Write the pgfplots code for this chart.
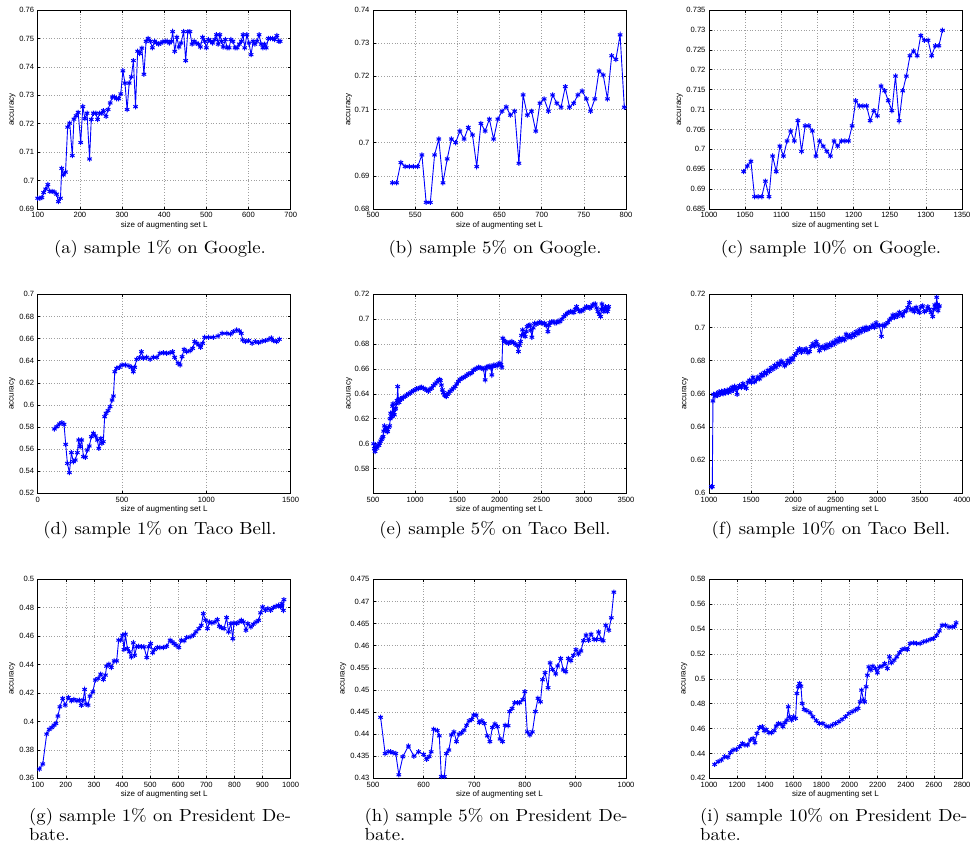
\documentclass[border=0pt]{standalone}
\usepackage{fontspec}
\usepackage{pgfplots}
\pgfplotsset{compat=1.18}
\newfontfamily\tickfont{Liberation Sans}
\newfontfamily\capfont{lmroman10-regular.otf}[FakeStretch=1.07]
\pgfplotsset{
  mystyle/.style={
    scale only axis, width=253pt, height=199pt,
    axis line style={line width=0.6pt, black},
    tick align=inside, major tick length=2.5pt,
    every tick/.style={black, line width=0.5pt},
    grid=major,
    major grid style={gray!75, line width=0.5pt, dash pattern=on 0.7pt off 2pt},
    tick label style={font=\tickfont\fontsize{7.6}{8}\selectfont},
    label style={font=\tickfont\fontsize{8}{9}\selectfont},
    /pgf/number format/assume math mode=true,
    /pgf/number format/1000 sep={},
    yticklabel style={/pgf/number format/fixed, /pgf/number format/precision=3},
    xlabel={size of augmenting set L}, ylabel={accuracy},
    xlabel style={at={(axis description cs:0.5,-0.082)}, anchor=center},
  },
  ylab/.style={ylabel style={at={(axis description cs:#1,0.5)}, anchor=center}},
  myline/.style={blue, line width=0.9pt, mark=asterisk, mark size=2.6pt, mark options={line width=1pt}},
}
\begin{document}
\begin{tikzpicture}
\useasboundingbox (0pt,0pt) rectangle (970pt,-847pt);
% (a)
\begin{axis}[mystyle, ylab=-0.099, at={(37.7pt,-209pt)}, xmin=100, xmax=700, ymin=0.69, ymax=0.76,
  xtick={100,200,...,700}, ytick={0.69,0.70,0.71,0.72,0.73,0.74,0.75,0.76}]
\addplot[myline] table {
100 0.6938
105 0.6938
110 0.6940
114 0.6958
119 0.6970
124 0.6986
129 0.6962
134 0.6962
139 0.6960
145 0.6952
149 0.6926
154 0.6938
157 0.7043
161 0.7020
166 0.7030
171 0.7188
176 0.7202
182 0.7088
186 0.7216
191 0.7228
196 0.7240
202 0.7134
207 0.7260
212 0.7218
217 0.7237
223 0.7076
227 0.7215
232 0.7237
238 0.7237
242 0.7215
247 0.7237
252 0.7237
256 0.7246
262 0.7226
267 0.7250
272 0.7273
277 0.7294
282 0.7294
287 0.7288
292 0.7288
297 0.7305
302 0.7386
307 0.7343
312 0.7250
317 0.7343
322 0.7365
327 0.7422
332 0.7260
337 0.7455
342 0.7447
347 0.7466
352 0.7374
357 0.7490
362 0.7500
367 0.7490
372 0.7467
377 0.7490
382 0.7484
387 0.7480
392 0.7484
397 0.7488
402 0.7490
407 0.7490
412 0.7484
417 0.7490
420 0.7524
425 0.7455
430 0.7504
435 0.7470
440 0.7484
446 0.7524
451 0.7422
456 0.7524
461 0.7524
466 0.7480
471 0.7490
476 0.7484
481 0.7480
486 0.7470
491 0.7504
496 0.7490
500 0.7467
505 0.7496
510 0.7490
515 0.7484
520 0.7496
524 0.7513
528 0.7480
532 0.7513
536 0.7490
540 0.7470
545 0.7496
549 0.7467
554 0.7467
558 0.7496
563 0.7490
568 0.7467
573 0.7467
578 0.7480
583 0.7490
587 0.7513
591 0.7467
596 0.7513
601 0.7484
606 0.7443
611 0.7490
615 0.7480
620 0.7490
625 0.7513
630 0.7480
634 0.7467
638 0.7480
642 0.7467
647 0.7500
652 0.7500
657 0.7500
662 0.7496
667 0.7510
672 0.7490
675 0.7490
};
\end{axis}
% (b)
\begin{axis}[mystyle, ylab=-0.095, at={(373pt,-209pt)}, xmin=500, xmax=800, ymin=0.68, ymax=0.74,
  xtick={500,550,...,800}, ytick={0.68,0.69,0.70,0.71,0.72,0.73,0.74}]
\addplot[myline] table {
523 0.6879
528 0.6879
533 0.6940
538 0.6928
543 0.6928
548 0.6928
553 0.6928
558 0.6963
563 0.6820
568 0.6820
573 0.6963
578 0.7011
583 0.6879
588 0.6951
593 0.7011
598 0.7000
603 0.7035
608 0.7011
613 0.7046
618 0.7023
623 0.6928
628 0.7058
633 0.7035
638 0.7071
643 0.7011
648 0.7071
653 0.7095
658 0.7108
663 0.7083
668 0.7095
673 0.6938
678 0.7144
683 0.7083
688 0.7095
693 0.7035
698 0.7119
703 0.7132
708 0.7095
713 0.7144
718 0.7119
723 0.7107
728 0.7169
733 0.7107
738 0.7119
743 0.7144
748 0.7156
753 0.7132
758 0.7095
763 0.7132
768 0.7216
773 0.7204
778 0.7132
783 0.7262
788 0.7251
793 0.7325
798 0.7107
};
\end{axis}
% (c)
\begin{axis}[mystyle, ylab=-0.115, at={(709pt,-209pt)}, xmin=1000, xmax=1350, ymin=0.685, ymax=0.735,
  xtick={1000,1050,...,1350}, ytick={0.685,0.69,0.695,0.7,0.705,0.71,0.715,0.72,0.725,0.73,0.735}]
\addplot[myline] table {
1048 0.6944
1053 0.6958
1058 0.6970
1063 0.6881
1068 0.6881
1073 0.6881
1078 0.6920
1083 0.6881
1088 0.6983
1093 0.6944
1098 0.7008
1103 0.6983
1108 0.7021
1113 0.7046
1118 0.7021
1123 0.7072
1128 0.6995
1133 0.7059
1138 0.7059
1143 0.7046
1148 0.6983
1153 0.7021
1158 0.7008
1163 0.6995
1168 0.6983
1173 0.7021
1178 0.7008
1183 0.7021
1188 0.7021
1193 0.7021
1198 0.7059
1203 0.7122
1208 0.7109
1213 0.7109
1218 0.7109
1223 0.7072
1228 0.7097
1233 0.7084
1238 0.7159
1243 0.7147
1248 0.7122
1253 0.7097
1258 0.7184
1263 0.7072
1268 0.7147
1273 0.7184
1278 0.7235
1283 0.7247
1288 0.7235
1293 0.7286
1298 0.7274
1303 0.7274
1308 0.7235
1313 0.7260
1318 0.7260
1323 0.7299
};
\end{axis}
% (d)
\begin{axis}[mystyle, ylab=-0.1, at={(37.7pt,-493.3pt)}, xmin=0, xmax=1500, ymin=0.52, ymax=0.70,
  xtick={0,500,1000,1500}, ytick={0.52,0.54,0.56,0.58,0.6,0.62,0.64,0.66,0.68,0.7}]
\addplot[myline] table {
99 0.5782
113 0.5803
128 0.5827
144 0.5839
156 0.5824
166 0.5643
176 0.5471
188 0.5387
200 0.5568
211 0.5486
223 0.5501
235 0.5568
243 0.5682
251 0.5622
261 0.5682
271 0.5532
283 0.5526
294 0.5592
306 0.5628
318 0.5712
330 0.5743
342 0.5719
354 0.5682
362 0.5607
374 0.5697
381 0.5652
389 0.5667
397 0.5893
405 0.5924
417 0.5948
429 0.5984
441 0.6044
449 0.6080
457 0.6300
468 0.6331
484 0.6340
500 0.6361
520 0.6361
540 0.6352
555 0.6340
567 0.6300
575 0.6340
587 0.6412
603 0.6427
615 0.6481
626 0.6421
646 0.6430
666 0.6412
686 0.6430
706 0.6430
725 0.6466
745 0.6472
765 0.6466
785 0.6472
800 0.6481
812 0.6430
832 0.6376
844 0.6361
856 0.6436
868 0.6502
883 0.6481
903 0.6490
919 0.6511
931 0.6572
943 0.6557
955 0.6542
966 0.6520
978 0.6557
990 0.6611
1014 0.6611
1042 0.6611
1069 0.6623
1093 0.6647
1121 0.6647
1144 0.6641
1160 0.6662
1180 0.6677
1196 0.6668
1207 0.6647
1215 0.6587
1231 0.6572
1251 0.6581
1271 0.6557
1291 0.6572
1310 0.6563
1330 0.6575
1350 0.6581
1370 0.6593
1385 0.6605
1397 0.6581
1417 0.6572
1433 0.6593
};
\end{axis}
% (e)
\begin{axis}[mystyle, ylab=-0.094, at={(373pt,-493.3pt)}, xmin=500, xmax=3500, ymin=0.56, ymax=0.72,
  xtick={500,1000,...,3500}, ytick={0.58,0.6,0.62,0.64,0.66,0.68,0.7,0.72}]
\addplot[myline] table {
508 0.5998
516 0.5960
524 0.5936
535 0.5975
547 0.5963
560 0.5990
570 0.5985
579 0.6003
591 0.6020
603 0.6035
611 0.6045
619 0.6057
627 0.6100
635 0.6142
645 0.6110
658 0.6124
666 0.6095
674 0.6097
686 0.6130
698 0.6142
704 0.6200
710 0.6244
718 0.6215
726 0.6217
732 0.6300
737 0.6319
745 0.6250
753 0.6231
761 0.6275
769 0.6284
777 0.6320
785 0.6346
793 0.6458
801 0.6350
809 0.6330
825 0.6360
840 0.6357
860 0.6372
880 0.6378
900 0.6390
920 0.6399
940 0.6405
959 0.6416
979 0.6425
999 0.6432
1018 0.6440
1038 0.6442
1058 0.6450
1078 0.6453
1098 0.6445
1117 0.6437
1137 0.6430
1157 0.6421
1176 0.6438
1196 0.6445
1216 0.6465
1236 0.6480
1256 0.6495
1276 0.6507
1290 0.6515
1299 0.6507
1311 0.6470
1323 0.6432
1335 0.6410
1347 0.6391
1359 0.6385
1371 0.6378
1383 0.6395
1394 0.6405
1414 0.6420
1434 0.6432
1453 0.6445
1473 0.6458
1493 0.6480
1513 0.6499
1533 0.6515
1553 0.6525
1572 0.6530
1592 0.6539
1612 0.6550
1632 0.6560
1651 0.6562
1671 0.6571
1691 0.6590
1711 0.6598
1731 0.6605
1751 0.6614
1770 0.6610
1790 0.6606
1810 0.6600
1830 0.6512
1838 0.6600
1845 0.6614
1865 0.6620
1885 0.6624
1897 0.6610
1909 0.6552
1920 0.6620
1932 0.6632
1952 0.6628
1972 0.6624
1988 0.6640
2004 0.6646
2016 0.6635
2028 0.6614
2039 0.6847
2053 0.6830
2067 0.6820
2087 0.6812
2107 0.6806
2127 0.6815
2146 0.6820
2166 0.6810
2186 0.6801
2206 0.6790
2225 0.6740
2237 0.6790
2249 0.6820
2261 0.6870
2273 0.6914
2289 0.6880
2305 0.6860
2317 0.6900
2328 0.6940
2344 0.6950
2360 0.6954
2372 0.6910
2384 0.6855
2400 0.6930
2415 0.6967
2435 0.6960
2455 0.6967
2475 0.6975
2494 0.6972
2514 0.6965
2534 0.6967
2554 0.6950
2574 0.6900
2586 0.6950
2597 0.6972
2617 0.6978
2637 0.6980
2657 0.6970
2676 0.6972
2696 0.6985
2716 0.6980
2740 0.7000
2763 0.7021
2783 0.7035
2803 0.7047
2823 0.7055
2843 0.7061
2862 0.7058
2882 0.7053
2898 0.7080
2914 0.7101
2934 0.7075
2953 0.7061
2973 0.7068
2993 0.7074
3013 0.7088
3033 0.7101
3052 0.7095
3072 0.7088
3088 0.7100
3104 0.7114
3120 0.7120
3136 0.7122
3152 0.7090
3167 0.7061
3183 0.7040
3199 0.7021
3207 0.7080
3215 0.7122
3227 0.7090
3239 0.7061
3247 0.7080
3255 0.7101
3267 0.7080
3278 0.7061
3286 0.7080
3294 0.7101
};
\end{axis}
% (f)
\begin{axis}[mystyle, ylab=-0.095, at={(709pt,-493.3pt)}, xmin=1000, xmax=4000, ymin=0.6, ymax=0.72,
  xtick={1000,1500,...,4000}, ytick={0.6,0.62,0.64,0.66,0.68,0.7,0.72}]
\addplot[myline] table {
1028 0.6040
1039 0.6040
1047 0.6557
1055 0.6597
1071 0.6585
1087 0.6600
1103 0.6590
1119 0.6612
1135 0.6598
1150 0.6615
1166 0.6600
1182 0.6618
1198 0.6605
1214 0.6622
1230 0.6608
1245 0.6628
1260 0.6615
1275 0.6640
1290 0.6622
1304 0.6645
1318 0.6630
1332 0.6597
1348 0.6640
1363 0.6650
1383 0.6638
1403 0.6662
1422 0.6645
1442 0.6633
1462 0.6670
1482 0.6682
1501 0.6668
1521 0.6700
1541 0.6672
1561 0.6685
1580 0.6702
1600 0.6690
1620 0.6718
1640 0.6708
1660 0.6730
1679 0.6720
1699 0.6742
1718 0.6735
1738 0.6758
1758 0.6748
1778 0.6772
1797 0.6760
1817 0.6785
1837 0.6775
1856 0.6798
1876 0.6788
1896 0.6768
1916 0.6780
1935 0.6802
1955 0.6790
1975 0.6815
1995 0.6805
2014 0.6832
2034 0.6842
2054 0.6860
2074 0.6872
2094 0.6850
2113 0.6866
2133 0.6858
2153 0.6872
2172 0.6848
2192 0.6855
2212 0.6885
2232 0.6902
2252 0.6888
2271 0.6915
2291 0.6895
2310 0.6860
2330 0.6880
2350 0.6885
2370 0.6872
2389 0.6895
2409 0.6880
2429 0.6900
2448 0.6890
2468 0.6912
2488 0.6900
2508 0.6925
2528 0.6912
2547 0.6935
2567 0.6920
2587 0.6935
2607 0.6925
2626 0.6960
2646 0.6940
2666 0.6952
2686 0.6940
2705 0.6962
2725 0.6950
2745 0.6975
2765 0.6962
2784 0.6985
2804 0.6972
2824 0.6995
2844 0.6982
2863 0.7002
2883 0.6988
2903 0.6998
2922 0.7002
2942 0.7015
2962 0.7000
2982 0.7028
3001 0.7010
3021 0.7012
3045 0.6947
3061 0.7015
3080 0.7008
3100 0.7022
3120 0.7030
3140 0.7045
3160 0.7055
3179 0.7075
3198 0.7060
3218 0.7078
3238 0.7068
3258 0.7092
3277 0.7080
3297 0.7070
3317 0.7095
3337 0.7100
3356 0.7120
3376 0.7150
3396 0.7105
3416 0.7112
3435 0.7095
3455 0.7122
3475 0.7105
3495 0.7090
3514 0.7125
3534 0.7130
3554 0.7095
3574 0.7102
3594 0.7125
3613 0.7110
3633 0.7090
3653 0.7066
3665 0.7110
3677 0.7136
3690 0.7120
3700 0.7182
3708 0.7140
3716 0.7101
3724 0.7125
3732 0.7130
};
\end{axis}
% (g)
\begin{axis}[mystyle, ylab=-0.1, at={(37.7pt,-778.3pt)}, xmin=100, xmax=1000, ymin=0.36, ymax=0.5,
  xtick={100,200,...,1000}, ytick={0.36,0.38,0.4,0.42,0.44,0.46,0.48,0.5}]
\addplot[myline] table {
106 0.3665
118 0.3701
132 0.3911
141 0.3944
150 0.3958
158 0.3974
165 0.3986
172 0.4038
179 0.4103
189 0.4162
198 0.4115
209 0.4169
220 0.4145
229 0.4155
239 0.4145
248 0.4150
255 0.4113
262 0.4150
267 0.4225
272 0.4122
279 0.4115
286 0.4178
296 0.4209
305 0.4291
315 0.4302
324 0.4333
334 0.4295
341 0.4326
345 0.4389
353 0.4403
362 0.4380
372 0.4426
381 0.4426
388 0.4572
395 0.4572
402 0.4607
407 0.4506
412 0.4614
419 0.4513
426 0.4490
433 0.4454
440 0.4553
445 0.4466
452 0.4525
459 0.4529
469 0.4525
478 0.4525
488 0.4450
495 0.4525
502 0.4548
509 0.4483
516 0.4506
526 0.4520
535 0.4520
547 0.4520
559 0.4529
571 0.4572
578 0.4560
585 0.4548
592 0.4536
602 0.4520
611 0.4572
621 0.4567
630 0.4590
642 0.4595
654 0.4607
663 0.4630
673 0.4653
682 0.4677
689 0.4759
697 0.4712
704 0.4653
711 0.4700
720 0.4693
730 0.4700
739 0.4717
746 0.4670
753 0.4660
763 0.4653
772 0.4731
779 0.4630
787 0.4689
794 0.4583
798 0.4693
808 0.4689
817 0.4700
825 0.4712
832 0.4700
841 0.4642
848 0.4689
858 0.4665
867 0.4684
877 0.4700
886 0.4712
893 0.4764
900 0.4806
910 0.4782
919 0.4794
929 0.4782
938 0.4801
948 0.4810
957 0.4817
964 0.4806
969 0.4829
974 0.4782
976 0.4857
};
\end{axis}
% (h)
\begin{axis}[mystyle, ylab=-0.117, at={(373pt,-778.3pt)}, xmin=500, xmax=1000, ymin=0.43, ymax=0.475,
  xtick={500,600,...,1000}, ytick={0.43,0.435,0.44,0.445,0.45,0.455,0.46,0.465,0.47,0.475}]
\addplot[myline] table {
515 0.4438
524 0.4356
530 0.4360
535 0.4360
540 0.4358
545 0.4356
551 0.4308
559 0.4349
570 0.4373
581 0.4350
590 0.4360
600 0.4354
606 0.4343
611 0.4349
615 0.4360
620 0.4411
627 0.4408
631 0.4396
635 0.4304
641 0.4304
645 0.4356
650 0.4364
655 0.4398
660 0.4405
665 0.4383
670 0.4400
675 0.4403
680 0.4409
685 0.4420
690 0.4430
695 0.4433
699 0.4443
704 0.4443
710 0.4426
715 0.4430
720 0.4424
726 0.4396
731 0.4383
736 0.4415
741 0.4423
746 0.4417
751 0.4389
756 0.4383
761 0.4420
767 0.4419
770 0.4451
775 0.4458
780 0.4471
786 0.4471
790 0.4471
796 0.4478
800 0.4496
805 0.4405
810 0.4398
815 0.4405
821 0.4451
826 0.4481
831 0.4473
835 0.4523
840 0.4539
846 0.4505
850 0.4561
855 0.4546
861 0.4536
865 0.4554
871 0.4571
876 0.4545
881 0.4541
886 0.4571
891 0.4566
896 0.4578
901 0.4591
906 0.4581
911 0.4588
916 0.4611
921 0.4624
926 0.4612
931 0.4626
937 0.4614
942 0.4614
946 0.4631
951 0.4614
955 0.4611
960 0.4646
966 0.4635
971 0.4663
976 0.4721
};
\end{axis}
% (i)
\begin{axis}[mystyle, ylab=-0.098, at={(709pt,-778.3pt)}, xmin=1000, xmax=2800, ymin=0.42, ymax=0.58,
  xtick={1000,1200,...,2800}, ytick={0.42,0.44,0.46,0.48,0.5,0.52,0.54,0.56,0.58}]
\addplot[myline] table {
1040 0.4312
1064 0.4334
1088 0.4347
1111 0.4374
1135 0.4369
1152 0.4406
1171 0.4427
1194 0.4433
1218 0.4454
1237 0.4481
1256 0.4468
1275 0.4468
1294 0.4508
1313 0.4521
1327 0.4486
1341 0.4561
1360 0.4609
1379 0.4615
1393 0.4583
1407 0.4593
1426 0.4567
1445 0.4567
1464 0.4583
1478 0.4620
1493 0.4641
1512 0.4636
1526 0.4615
1540 0.4647
1554 0.4668
1564 0.4775
1573 0.4695
1588 0.4668
1602 0.4695
1616 0.4682
1625 0.4882
1635 0.4936
1644 0.4963
1654 0.4941
1663 0.4802
1677 0.4754
1697 0.4743
1720 0.4727
1739 0.4695
1763 0.4663
1786 0.4641
1810 0.4641
1834 0.4620
1853 0.4615
1877 0.4628
1900 0.4641
1924 0.4655
1947 0.4674
1971 0.4695
1995 0.4722
2018 0.4735
2042 0.4749
2061 0.4762
2075 0.4815
2085 0.4909
2099 0.4829
2108 0.4815
2118 0.4936
2127 0.5029
2137 0.5096
2151 0.5070
2165 0.5102
2184 0.5083
2198 0.5048
2213 0.5096
2232 0.5102
2250 0.5123
2269 0.5083
2284 0.5177
2298 0.5128
2317 0.5150
2336 0.5177
2355 0.5209
2374 0.5235
2393 0.5243
2412 0.5235
2431 0.5284
2455 0.5289
2478 0.5284
2502 0.5284
2525 0.5297
2549 0.5305
2573 0.5316
2597 0.5324
2620 0.5350
2639 0.5385
2658 0.5431
2682 0.5431
2706 0.5417
2729 0.5417
2748 0.5423
2758 0.5450
};
\end{axis}
% captions
\begin{scope}[every node/.style={inner sep=0pt, font=\capfont\fontsize{17.5}{19}\selectfont}]
\node[anchor=base] at (160pt,-253.5pt) {(a) sample 1\% on Google.};
\node[anchor=base] at (495pt,-253.5pt) {(b) sample 5\% on Google.};
\node[anchor=base] at (831pt,-253.5pt) {(c) sample 10\% on Google.};
\node[anchor=base] at (160pt,-534pt) {(d) sample 1\% on Taco Bell.};
\node[anchor=base] at (495pt,-534pt) {(e) sample 5\% on Taco Bell.};
\node[anchor=base] at (831pt,-534pt) {(f) sample 10\% on Taco Bell.};
\node[anchor=base west] at (29pt,-821pt) {(g) sample 1\% on President De-};
\node[anchor=base west] at (29pt,-840pt) {bate.};
\node[anchor=base west] at (364.5pt,-821pt) {(h) sample 5\% on President De-};
\node[anchor=base west] at (364.5pt,-840pt) {bate.};
\node[anchor=base west] at (700pt,-821pt) {(i) sample 10\% on President De-};
\node[anchor=base west] at (700pt,-840pt) {bate.};
\end{scope}
\end{tikzpicture}
\end{document}
